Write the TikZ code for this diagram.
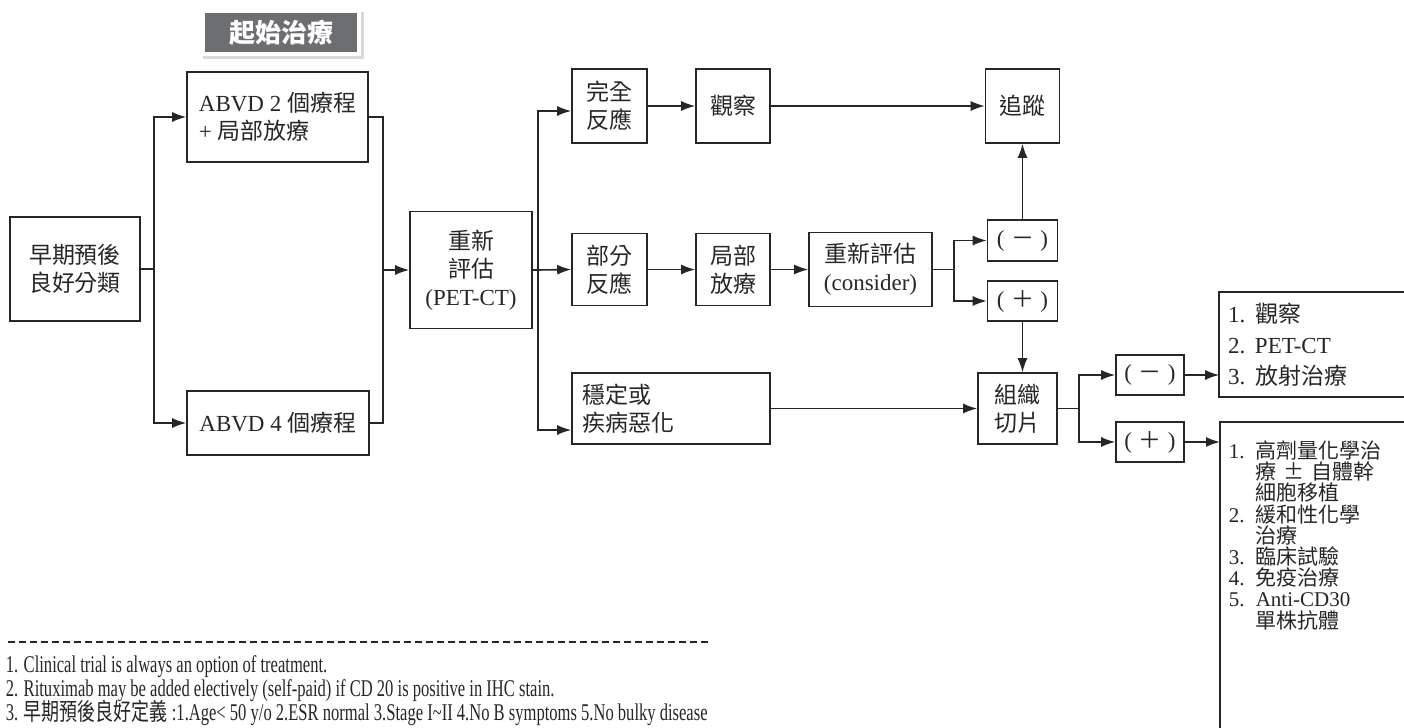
\documentclass[tikz,border=0pt]{standalone}
\usepackage{fontspec}
\setmainfont{Liberation Serif}
\newfontfamily\cjk{Noto Sans CJK TC}
\newfontfamily\notefont[FakeStretch=0.69]{Liberation Serif}
\newfontfamily\notecjk[FakeStretch=0.75]{Noto Sans CJK TC}
\usetikzlibrary{arrows.meta, calc}
\tikzset{>={Latex[length=7pt, width=5pt]}}
\definecolor{bannergray}{HTML}{6D6E71}
\newcommand{\zh}[1]{{\cjk #1}}
\newcommand{\itemno}[1]{\makebox[13.5pt][l]{#1}}
\newcommand{\tightlines}{\fontsize{10.5pt}{10.6pt}\selectfont\lineskiplimit=-6pt\relax}
\tikzset{
    box/.style={draw, inner sep=0pt, align=center, font=\fontsize{11.5pt}{14pt}\selectfont},
    lbox/.style={box, align=left, inner xsep=5pt},
    banner/.style={fill=bannergray, text=white, minimum width=76pt, minimum height=19.5pt,
        font=\cjk\bfseries\fontsize{13pt}{15pt}\selectfont},
    note/.style={anchor=base west, inner sep=0pt, font=\notefont\fontsize{12pt}{14pt}\selectfont}
}

\begin{document}
\begin{tikzpicture}[x=0.5pt, y=-0.5pt, line width=0.8pt, color=black!85]
    \useasboundingbox (0, 0) rectangle (1404, 728);
    % banner
    \fill[gray!30](203, 12)rectangle(364, 59);
    \fill[white](200, 9)rectangle(361, 56);
    \node[banner] (start) at (281, 32.5) {起始治療};
    % first column
    \node[box, minimum width=65pt, minimum height=52pt] (early) at (75, 269) {\zh{早期預後}\\\zh{良好分類}};
    \node[box, align=left, minimum width=90.5pt, minimum height=45pt] (abvd2) at (277.5, 117) {ABVD 2 \zh{個療程}\\+ \zh{局部放療}};
    \node[box, align=left, minimum width=91pt, minimum height=32pt] (abvd4) at (278, 423) {ABVD 4 \zh{個療程}};
    \node[box, minimum width=61pt, minimum height=58.5pt] (reeval) at (471, 270) {\zh{重新}\\\zh{評估}\\(PET-CT)};
    % responses
    \node[box, minimum width=37.5pt, minimum height=37pt] (cr) at (609.5, 106) {\zh{完全}\\\zh{反應}};
    \node[box, minimum width=37pt, minimum height=37pt] (obs) at (733, 106) {\zh{觀察}};
    \node[box, minimum width=37pt, minimum height=37pt] (fu) at (1022.5, 106) {\zh{追蹤}};
    \node[box, minimum width=37.5pt, minimum height=36pt] (pr) at (609.5, 269.5) {\zh{部分}\\\zh{反應}};
    \node[box, minimum width=37pt, minimum height=36pt] (rt) at (733, 269.5) {\zh{局部}\\\zh{放療}};
    \node[box, minimum width=61.5pt, minimum height=37pt] (recons) at (870.5, 269.5) {\zh{重新評估}\\(consider)};
    \node[box, minimum width=35pt, minimum height=20.5pt] (neg1) at (1022.5, 240.5) {(\;\zh{－}\;)};
    \node[box, minimum width=35pt, minimum height=20pt] (pos1) at (1022.5, 301) {(\;\zh{＋}\;)};
    \node[lbox, text width=89pt, minimum height=35.5pt] (sd) at (671, 408.5) {\zh{穩定或}\\\zh{疾病惡化}};
    \node[box, minimum width=39.5pt, minimum height=35.5pt] (bx) at (1017.5, 408.5) {\zh{組織}\\\zh{切片}};
    \node[box, minimum width=34pt, minimum height=20pt] (neg2) at (1150, 375) {(\;\zh{－}\;)};
    \node[box, minimum width=34pt, minimum height=20pt] (pos2) at (1150, 442) {(\;\zh{＋}\;)};
    % option lists, open on the right
    \node[lbox, draw=none, inner xsep=4pt, text width=84pt, minimum height=51.5pt,
        font=\fontsize{11.5pt}{15.5pt}\selectfont] (list1) at (1312, 344.5)
        {\itemno{1.}\zh{觀察}\\\itemno{2.}PET-CT\\\itemno{3.}\zh{放射治療}};
    \draw (list1.north east) -- (list1.north west) -- (list1.south west) -- (list1.south east);
    \node[lbox, draw=none, anchor=north west, inner xsep=4pt, inner ysep=9pt, text width=84pt,
        font=\tightlines] (list2) at (1220, 422)
        {\itemno{1.}\zh{高劑量化學治}\\\hspace*{13.5pt}\zh{療 ± 自體幹}\\\hspace*{13.5pt}\zh{細胞移植}\\
         \itemno{2.}\zh{緩和性化學}\\\hspace*{13.5pt}\zh{治療}\\\itemno{3.}\zh{臨床試驗}\\
         \itemno{4.}\zh{免疫治療}\\\itemno{5.}Anti-CD30\\\hspace*{13.5pt}\zh{單株抗體}};
    \draw (list2.north east) -- (list2.north west) -- ++(0, 320);
    % connectors
    \draw[->] (early.east) -- ++(13, 0) |- (abvd2.west);
    \draw[->] (early.east) -- ++(13, 0) |- (abvd4.west);
    \coordinate (join) at (383, 270);
    \draw (abvd2.east) -| (join);
    \draw (abvd4.east) -| (join);
    \draw[->] (join) -- (reeval.west);
    \coordinate (split) at (538, 270);
    \draw (reeval.east) -- (split);
    \draw[->] (split) |- ($(cr.west)+(0, 5)$);
    \draw[->] (split) -- (pr.west);
    \draw[->] (split) |- ($(sd.west)+(0, 21.5)$);
    \draw[->] (cr) -- (obs);
    \draw[->] (obs) -- (fu);
    \draw[->] (pr) -- (rt);
    \draw[->] (rt) -- (recons);
    \draw[->] (recons.east) -- ++(21, 0) |- (neg1.west);
    \draw[->] (recons.east) -- ++(21, 0) |- (pos1.west);
    \draw[->] (neg1) -- (fu);
    \draw[->] (pos1.south) -- (pos1.south |- bx.north);
    \draw[->] (sd) -- (bx);
    \draw[->] (bx.east) -- ++(21, 0) |- (neg2.west);
    \draw[->] (bx.east) -- ++(21, 0) |- (pos2.west);
    \draw[->] (neg2.east) -- (neg2.east -| list1.west);
    \draw[->] (pos2.east) -- (pos2.east -| list2.west);
    % footnotes
    \draw[dashed, dash pattern=on 3.5pt off 2pt, line width=0.6pt](8, 642)--(708, 642);
    \node[note] (note1) at (5, 672) {1. Clinical trial is always an option of treatment.};
    \node[note] (note2) at (5, 696) {2. Rituximab may be added electively (self-paid) if CD 20 is positive in IHC stain.};
    \node[note] (note3) at (5, 720) {3. {\notecjk 早期預後良好定義} :1.Age< 50 y/o 2.ESR normal 3.Stage I\textasciitilde II 4.No B symptoms 5.No bulky disease};
\end{tikzpicture}
\end{document}
